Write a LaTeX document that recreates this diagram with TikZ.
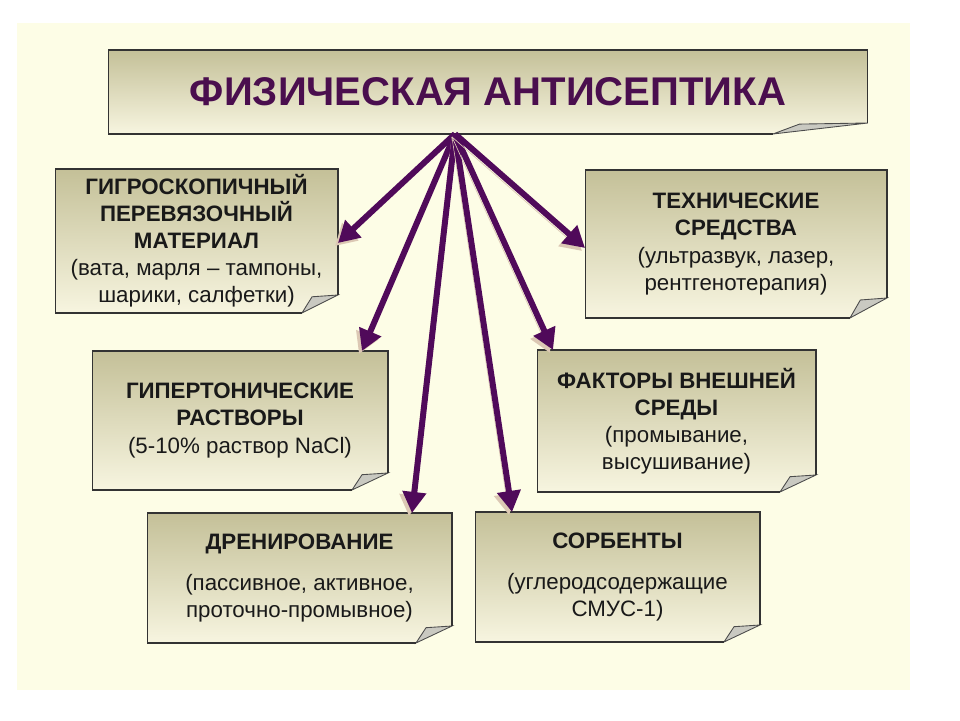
\documentclass[tikz,border=0pt]{standalone}
\usepackage{fontspec}
\setmainfont{Liberation Sans}
\usetikzlibrary{calc,arrows.meta}

\definecolor{cream}{HTML}{FDFDE6}
\definecolor{khaki}{HTML}{C4C098}
\definecolor{paper}{HTML}{F7F5E0}
\definecolor{plum}{HTML}{500A5A}
\definecolor{titleplum}{HTML}{4A0E4E}
\definecolor{trail}{HTML}{DCC8B4}
\definecolor{curlgray}{HTML}{C9C9C1}

% folded corner: node, fold width, fold height
\newcommand{\foldcorner}[3]{%
	\fill[cream] ($(#1.south east)+(-#2,0)$) -- (#1.south east) -- ($(#1.south east)+(0,-#3)$) -- cycle;
	\filldraw[fill=curlgray, draw=black!70, line width=0.5pt] ($(#1.south east)+(-#2,0)$) -- ($(#1.south east)+(-0.72*#2,-0.9*#3)$) -- ($(#1.south east)+(0,-#3)$) -- cycle;
	\draw[edge] ($(#1.south east)+(0,-#3)$) -- (#1.north east) -- (#1.north west) -- (#1.south west) -- ($(#1.south east)+(-#2,0)$);
}

\begin{document}
\begin{tikzpicture}[x=0.02cm, y=-0.02cm, font=\fontsize{12.7}{15.4}\selectfont,
	box/.style={top color=khaki, bottom color=paper, draw=none, inner sep=0pt, outer sep=0pt, align=center, text=black!90},
	edge/.style={draw=black!80, line width=0.6pt},
	arr/.style={-{Triangle[length=12pt, width=13pt]}, line width=3.4pt, plum, preaction={draw=trail, transform canvas={shift={(-3,3)}}}}]
	\useasboundingbox (0,0) rectangle (960,720);
	\fill[cream] (17,23) rectangle (910,690);

	% Заголовок
	\node[box, minimum width=15.2cm, minimum height=1.68cm, text=titleplum, font=\bfseries\fontsize{22.8}{27}\selectfont] (title) at (488,92) {ФИЗИЧЕСКАЯ АНТИСЕПТИКА};
	\foldcorner{title}{95}{11}

	% Левая колонка
	\node[box, minimum width=5.66cm, minimum height=2.88cm] (hygro) at (196.5,241) {\textbf{ГИГРОСКОПИЧНЫЙ}\\\textbf{ПЕРЕВЯЗОЧНЫЙ}\\\textbf{МАТЕРИАЛ}\\(вата, марля – тампоны,\\шарики, салфетки)};
	\foldcorner{hygro}{36}{18}
	\node[box, minimum width=5.92cm, minimum height=2.78cm] (hyper) at (240,420.5) {\textbf{ГИПЕРТОНИЧЕСКИЕ}\\\textbf{РАСТВОРЫ}\\(5-10\% раствор NaCl)};
	\foldcorner{hyper}{36}{17}
	\node[box, minimum width=6.1cm, minimum height=2.6cm] (drain) at (299.5,578) {\textbf{ДРЕНИРОВАНИЕ}\\[7.9pt](пассивное, активное,\\проточно-промывное)};
	\foldcorner{drain}{36}{17}

	% Правая колонка
	\node[box, minimum width=6.04cm, minimum height=2.96cm] (tech) at (736,244) {\textbf{ТЕХНИЧЕСКИЕ}\\\textbf{СРЕДСТВА}\\(ультразвук, лазер,\\рентгенотерапия)};
	\foldcorner{tech}{37}{20}
	\node[box, minimum width=5.58cm, minimum height=2.84cm] (envir) at (676.5,421) {\textbf{ФАКТОРЫ ВНЕШНЕЙ}\\\textbf{СРЕДЫ}\\(промывание,\\высушивание)};
	\foldcorner{envir}{36}{17}
	\node[box, minimum width=5.7cm, minimum height=2.6cm] (sorb) at (617.5,577) {\textbf{СОРБЕНТЫ}\\[7.9pt](углеродсодержащие\\СМУС-1)};
	\foldcorner{sorb}{36}{17}

	% Стрелки
	\coordinate (hub) at ($(title.south)+(-33,0)$);
	\draw[arr] (hub) -- ($(hygro.east)+(0,2)$);
	\draw[arr] (hub) -- ($(hyper.north east)+(-26,0)$);
	\draw[arr] (hub) -- ($(drain.north east)+(-40,0)$);
	\draw[arr] (hub) -- ($(sorb.north west)+(37,0)$);
	\draw[arr] (hub) -- ($(envir.north west)+(16,0)$);
	\draw[arr] (hub) -- ($(tech.west)+(0,4)$);

\end{tikzpicture}
\end{document}
